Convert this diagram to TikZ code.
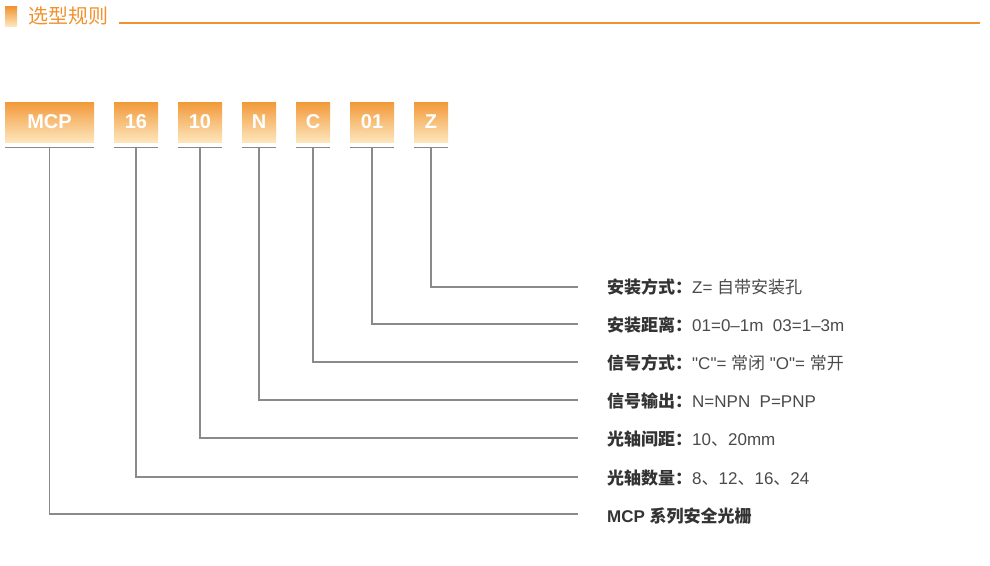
\documentclass[tikz,border=0pt]{standalone}
\usepackage{fontspec}
\setmainfont{Liberation Sans}[Ligatures=TeXOff]
\newfontfamily\cjk{Noto Sans CJK SC}
\definecolor{og}{HTML}{F0922E}
\definecolor{boxtop}{HTML}{F2993A}
\definecolor{boxbot}{HTML}{FDE6BC}
\definecolor{lgray}{HTML}{8A8A8A}
\definecolor{lbl}{HTML}{333333}
\definecolor{val}{HTML}{4A4A4A}
\begin{document}
\begin{tikzpicture}[x=1pt,y=-1pt,
  codebox/.style={minimum height=40pt, inner sep=0pt, top color=boxtop, bottom color=boxbot, draw=none, text=white, font=\fontsize{20}{20}\selectfont\bfseries},
  uline/.style={draw=lgray, line width=1.4pt},
  conn/.style={draw=lgray, line width=1.1pt},
  desc/.style={anchor=west, inner sep=0pt, text=val, font=\fontsize{17}{19}\selectfont},
  latin/.style={},
]
\useasboundingbox (0,0) rectangle (990,565);
% title
\shade[top color=og, bottom color=boxbot] (5,6) rectangle (17,26);
\node[anchor=west, inner sep=0pt, text=og, font=\cjk\fontsize{20}{21}\selectfont] (title) at (28,16) {选型规则};
\coordinate (hl1) at (119,23);
\coordinate (hl2) at (980,23);
\draw[og, line width=2pt] (hl1) -- (hl2);
% boxes
\node[codebox, minimum width=89pt] (b1) at (49.5,122) {MCP};
\node[codebox, minimum width=44pt] (b2) at (136,122) {16};
\node[codebox, minimum width=44pt] (b3) at (200,122) {10};
\node[codebox, minimum width=34pt] (b4) at (259,122) {N};
\node[codebox, minimum width=34pt] (b5) at (313,122) {C};
\node[codebox, minimum width=44pt] (b6) at (372,122) {01};
\node[codebox, minimum width=34pt] (b7) at (431,122) {Z};
\foreach \i in {1,...,7}{
  \draw[uline] ([yshift=-5pt]b\i.south west) -- ([yshift=-5pt]b\i.south east);
  \coordinate (u\i) at ([yshift=-5pt]b\i.south);
}
% descriptions
\node[desc] (t7) at (607,287) {{\cjk\bfseries\color{lbl}安装方式：}Z= {\cjk 自带安装孔}};
\node[desc] (t6) at (607,325) {{\cjk\bfseries\color{lbl}安装距离：}01=0–1m\ \ 03=1–3m};
\node[desc] (t5) at (607,363) {{\cjk\bfseries\color{lbl}信号方式：}"C"= {\cjk 常闭} "O"= {\cjk 常开}};
\node[desc] (t4) at (607,401) {{\cjk\bfseries\color{lbl}信号输出：}N=NPN\ \ P=PNP};
\node[desc] (t3) at (607,439) {{\cjk\bfseries\color{lbl}光轴间距：}10{\cjk 、}20mm};
\node[desc] (t2) at (607,478) {{\cjk\bfseries\color{lbl}光轴数量：}8{\cjk 、}12{\cjk 、}16{\cjk 、}24};
\node[desc, text=lbl] (t1) at (607,516) {\bfseries MCP {\cjk 系列安全光栅}};
\foreach \i/\y in {7/287,6/324,5/362,4/400,3/438,2/477,1/514}{
  \coordinate (e\i) at (578,\y);
  \draw[conn] (u\i) |- (e\i);
}
\end{tikzpicture}
\end{document}
